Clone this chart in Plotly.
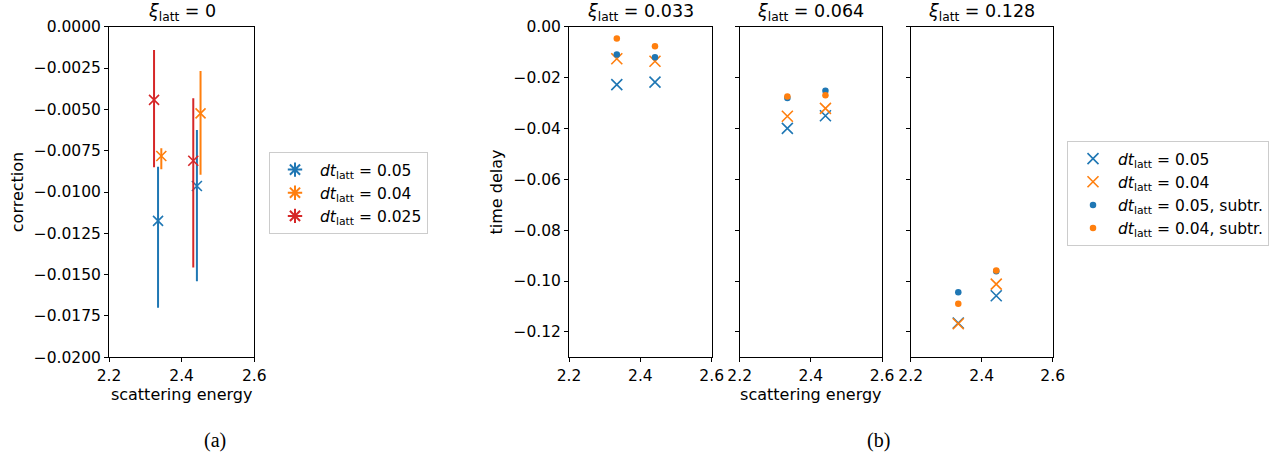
import plotly.graph_objects as go

# ---------------- data ----------------
# panel (a): corrections at xi_latt = 0 (asymmetric error bars)
a_labels = ["0.05", "0.04", "0.025"]
a_x_005 = [2.335, 2.442]
a_y_005 = [-0.01175, -0.00964]
a_up_005 = [0.00328, 0.00339]
a_dn_005 = [0.00525, 0.00576]

a_x_004 = [2.344, 2.452]
a_y_004 = [-0.00782, -0.00524]
a_up_004 = [0.00046, 0.00256]
a_dn_004 = [0.00081, 0.00371]

a_x_0025 = [2.324, 2.432]
a_y_0025 = [-0.00443, -0.00811]
a_up_0025 = [0.00302, 0.00378]
a_dn_0025 = [0.00408, 0.00645]

# panel (b): time delays
b_xi = ["0.033", "0.064", "0.128"]
b_energy = [2.334, 2.441]
b_dt005 = [[-0.0228, -0.0218], [-0.0400, -0.0350], [-0.1165, -0.1058]]
b_dt004 = [[-0.0126, -0.0136], [-0.0352, -0.0321], [-0.1168, -0.1012]]
b_dt005_sub = [[-0.0109, -0.0120], [-0.0280, -0.0252], [-0.1044, -0.0962]]
b_dt004_sub = [[-0.0046, -0.0077], [-0.0274, -0.0270], [-0.1089, -0.0959]]

a_yticks = [-0.02 + 0.0025 * i for i in range(9)]
b_yticks = [-0.12, -0.10, -0.08, -0.06, -0.04, -0.02, 0.0]
x_ticks = [2.2, 2.4, 2.6]

BLUE, ORANGE, RED = "#1f77b4", "#ff7f0e", "#d62728"
FONT = "'DejaVu Sans', Verdana, sans-serif"
TICK = 15.5
LAB = 16
W, H = 1278, 457

fig = go.Figure()

# ---- panel (a)
for xs, ys, up, dn, col, lab in [
    (a_x_005, a_y_005, a_up_005, a_dn_005, BLUE, a_labels[0]),
    (a_x_004, a_y_004, a_up_004, a_dn_004, ORANGE, a_labels[1]),
    (a_x_0025, a_y_0025, a_up_0025, a_dn_0025, RED, a_labels[2]),
]:
    fig.add_trace(go.Scatter(
        x=xs, y=ys, mode="markers", xaxis="x", yaxis="y", showlegend=False,
        marker=dict(symbol="x-thin-open", size=10, color=col, line=dict(color=col, width=1.6)),
        error_y=dict(type="data", symmetric=False, array=up, arrayminus=dn,
                     thickness=2, width=0, color=col),
    ))
    fig.add_trace(go.Scatter(
        x=[None], y=[None], mode="markers", xaxis="x", yaxis="y", legend="legend",
        name="<i>dt</i><sub>latt</sub> = " + lab,
        marker=dict(symbol="asterisk-open", size=12, color=col, line=dict(color=col, width=2)),
    ))

# ---- panel (b)
for i in range(3):
    xa = "x" + str(i + 2)
    ya = "y" + str(i + 2)
    first = i == 0
    fig.add_trace(go.Scatter(x=b_energy, y=b_dt005[i], mode="markers", xaxis=xa, yaxis=ya,
                             legend="legend2", showlegend=first,
                             name="<i>dt</i><sub>latt</sub> = 0.05",
                             marker=dict(symbol="x-thin-open", size=11, color=BLUE,
                                         line=dict(color=BLUE, width=1.6))))
    fig.add_trace(go.Scatter(x=b_energy, y=b_dt004[i], mode="markers", xaxis=xa, yaxis=ya,
                             legend="legend2", showlegend=first,
                             name="<i>dt</i><sub>latt</sub> = 0.04",
                             marker=dict(symbol="x-thin-open", size=11, color=ORANGE,
                                         line=dict(color=ORANGE, width=1.6))))
    fig.add_trace(go.Scatter(x=b_energy, y=b_dt005_sub[i], mode="markers", xaxis=xa, yaxis=ya,
                             legend="legend2", showlegend=first,
                             name="<i>dt</i><sub>latt</sub> = 0.05, subtr.",
                             marker=dict(symbol="circle", size=6.5, color=BLUE)))
    fig.add_trace(go.Scatter(x=b_energy, y=b_dt004_sub[i], mode="markers", xaxis=xa, yaxis=ya,
                             legend="legend2", showlegend=first,
                             name="<i>dt</i><sub>latt</sub> = 0.04, subtr.",
                             marker=dict(symbol="circle", size=6.5, color=ORANGE)))

def px_x(a, b):
    return [a / W, b / W]

ydom = [1 - 357.3 / H, 1 - 26.7 / H]

axis_common = dict(showline=True, linecolor="black", linewidth=1, mirror=True,
                   ticks="outside", ticklen=4, tickwidth=1, tickcolor="black",
                   showgrid=False, zeroline=False, automargin=False,
                   tickfont=dict(family=FONT, size=TICK, color="black"))

def xaxis(dom, anchor, title=None):
    d = dict(axis_common, domain=dom, anchor=anchor, range=[2.2, 2.6],
             tickvals=x_ticks, ticktext=["2.2", "2.4", "2.6"])
    if title:
        d["title"] = dict(text=title, font=dict(family=FONT, size=LAB, color="black"), standoff=2)
    return d

def fmt(v, nd):
    s = f"{abs(v):.{nd}f}"
    return ("\u2212" + s) if v < -1e-12 else s

layout = dict(
    width=W, height=H, margin=dict(l=0, r=0, t=0, b=0),
    paper_bgcolor="white", plot_bgcolor="white",
    font=dict(family=FONT, size=LAB, color="black"),
    xaxis=xaxis(px_x(109, 254.3), "y", "scattering energy"),
    yaxis=dict(axis_common, domain=ydom, anchor="x", range=[-0.02, 0],
               tickvals=a_yticks, ticktext=[fmt(v, 4) for v in a_yticks],
               title=dict(text="correction", font=dict(family=FONT, size=LAB, color="black"), standoff=6)),
    xaxis2=xaxis(px_x(569, 711.7), "y2"),
    yaxis2=dict(axis_common, domain=ydom, anchor="x2", range=[-0.13, 0],
                tickvals=b_yticks, ticktext=[fmt(v, 2) for v in b_yticks],
                title=dict(text="time delay", font=dict(family=FONT, size=LAB, color="black"), standoff=6)),
    xaxis3=xaxis(px_x(739.7, 882), "y3", "scattering energy"),
    yaxis3=dict(axis_common, domain=ydom, anchor="x3", range=[-0.13, 0],
                tickvals=b_yticks, showticklabels=False),
    xaxis4=xaxis(px_x(910.7, 1052.7), "y4"),
    yaxis4=dict(axis_common, domain=ydom, anchor="x4", range=[-0.13, 0],
                tickvals=b_yticks, showticklabels=False),
    legend=dict(x=269 / W, y=1 - 152 / H, xanchor="left", yanchor="top",
                bordercolor="#cccccc", borderwidth=1, bgcolor="white",
                font=dict(family=FONT, size=TICK, color="black"),
                tracegroupgap=0, itemwidth=40),
    legend2=dict(x=1067 / W, y=1 - 141 / H, xanchor="left", yanchor="top",
                 bordercolor="#cccccc", borderwidth=1, bgcolor="white",
                 font=dict(family=FONT, size=TICK, color="black"),
                 tracegroupgap=0, itemwidth=40),
)
fig.update_layout(**layout)

# subplot titles
titles = ["0"] + b_xi
doms = [px_x(109, 254.3), px_x(569, 711.7), px_x(739.7, 882), px_x(910.7, 1052.7)]
for t, d in zip(titles, doms):
    fig.add_annotation(x=(d[0] + d[1]) / 2, y=ydom[1], xref="paper", yref="paper",
                       xanchor="center", yanchor="bottom", yshift=1, showarrow=False,
                       text="<i>ξ</i><sub>latt</sub> = " + t,
                       font=dict(family=FONT, size=17.5, color="black"))

# sub-figure captions
for lab, xc in [("(a)", 215), ("(b)", 878)]:
    fig.add_annotation(x=xc / W, y=1 - 440 / H, xref="paper", yref="paper",
                       xanchor="center", yanchor="middle", showarrow=False, text=lab,
                       font=dict(family="Liberation Serif", size=20, color="black"))

fig.write_html("out.html")
